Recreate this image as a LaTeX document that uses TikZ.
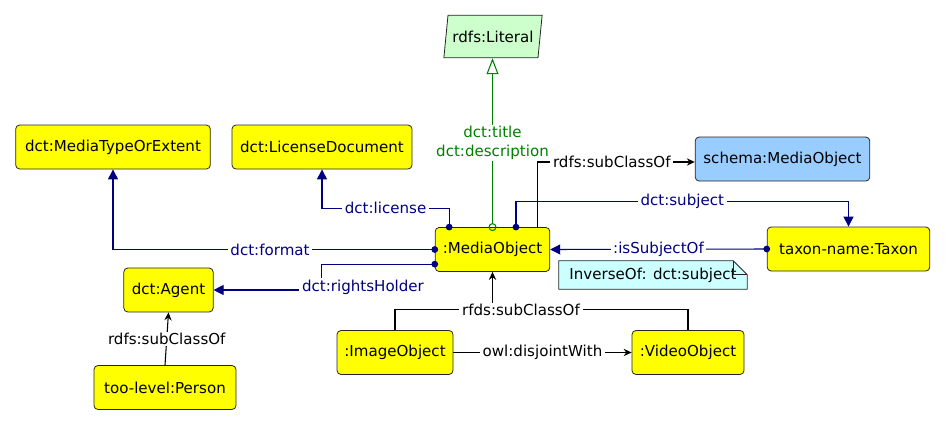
\documentclass[tikz,border=0pt]{standalone}
\usepackage{fontspec}
\setmainfont{DejaVu Sans}
\usepackage{tikz}
\usetikzlibrary{shapes.geometric, arrows.meta, positioning, calc, backgrounds}
\definecolor{clsyellow}{HTML}{FFFF00}
\definecolor{extblue}{HTML}{99CCFF}
\definecolor{litfill}{HTML}{CCFFCC}
\definecolor{notecyan}{HTML}{CCFFFF}
\definecolor{propblue}{HTML}{000080}
\definecolor{datagreen}{HTML}{008000}
\tikzset{
  % Class boxes
  cls/.style={rectangle, rounded corners=3pt, minimum height=33pt, text centered, draw=black!85, line width=0.6pt, fill=#1, font=\fontsize{11.3}{14}\selectfont},
  cls/.default={clsyellow},
  literal/.style={trapezium, trapezium left angle=78.6, trapezium right angle=101.4, trapezium stretches=true, minimum width=73.5pt, minimum height=32pt, draw=black!85, line width=0.6pt, fill=litfill, font=\fontsize{11.3}{14}\selectfont},
  notebox/.style={rectangle, minimum width=141pt, minimum height=21pt, text centered, font=\fontsize{11.3}{14}\selectfont},
  % Edges
  objprop/.style={draw=propblue, line width=0.8pt, {Circle[length=5pt]}-{Triangle[length=7.5pt, width=7.5pt]}, shorten <=-2.5pt},
  dataprop/.style={draw=datagreen, line width=0.8pt, {Circle[open, length=6pt]}-{Triangle[open, length=12pt, width=9pt]}, shorten <=-3pt},
  subcls/.style={draw=black, line width=0.8pt, -{Stealth[length=6pt, width=5.5pt, inset=2pt]}},
  plainline/.style={draw=black, line width=0.8pt},
}

\begin{document}
\begin{tikzpicture}[x=0.75pt, y=-0.75pt,
    lbl/.style={fill=white, inner xsep=2pt, inner ysep=1pt, text=#1, font=\fontsize{11.3}{14}\selectfont},
    lbl/.default={black}
  ]
    \useasboundingbox (0,0) rectangle (946,425);

    % Classes
    \node[literal] (lit) at (493,36.5) {rdfs:Literal};
    \node[cls, minimum width=146pt] (mte) at (113,147) {dct:MediaTypeOrExtent};
    \node[cls, minimum width=135pt] (lic) at (322,147) {dct:LicenseDocument};
    \node[cls=extblue, minimum width=131pt] (sch) at (782.5,159) {schema:MediaObject};
    \node[cls, minimum width=86pt] (mo) at (492.5,249.5) {:MediaObject};
    \node[cls, minimum width=122pt] (tax) at (848.5,249) {taxon-name:Taxon};
    \node[cls, minimum width=67pt] (agent) at (168.5,290) {dct:Agent};
    \node[cls, minimum width=106.5pt] (per) at (165,387.5) {too-level:Person};
    \node[cls, minimum width=87pt] (img) at (395,352.5) {:ImageObject};
    \node[cls, minimum width=84pt] (vid) at (688,352.5) {:VideoObject};

    % Note
    \node[notebox] (inv) at (653,275) {InverseOf: dct:subject};
    \begin{scope}[on background layer]
      \draw[fill=notecyan, draw=black!85, line width=0.6pt] (inv.south west) -- (inv.north west) -- ([xshift=-10.5pt]inv.north east) -- ([yshift=-10.5pt]inv.north east) -- (inv.south east) -- cycle;
    \end{scope}
    \draw[draw=black!85, line width=0.6pt] ([xshift=-10.5pt]inv.north east) |- ([yshift=-10.5pt]inv.north east);

    % Datatype properties
    \draw[dataprop] (mo.north) -- node[lbl=datagreen, align=center, pos=0.5] (dlbl) {dct:title\\dct:description} (mo.north |- lit.south);

    % Object properties
    \draw[objprop] (mo.west) -| node[lbl=propblue, pos=0.256] (flbl) {dct:format} (mte.south);
    \draw[objprop] ([xshift=-32.5pt]mo.north) -- ++(0,-19) -| node[lbl=propblue, pos=0.25] (llbl) {dct:license} (lic.south);
    \draw[objprop] ([yshift=-11pt]mo.west) -- ++(-113,0) |- (agent.east);
    \node[lbl=propblue] (rlbl) at (363,287) {dct:rightsHolder};
    \draw[objprop] ([xshift=17.6pt]mo.north) -- ++(0,-26) -| node[lbl=propblue, pos=0.25] (slbl) {dct:subject} (tax.north);
    \draw[objprop] (tax.west) -- node[lbl=propblue, pos=0.5] (ilbl) {:isSubjectOf} (mo.east);

    % Subclass links
    \draw[subcls] ([xshift=33.4pt]mo.north) |- node[lbl, pos=0.737] (sclbl) {rdfs:subClassOf} ([yshift=-2.25pt]sch.west);
    \draw[plainline] (img.north) -- ++(0,-21) coordinate (jn) -| (vid.north);
    \draw[subcls] (mo.south |- jn) -- (mo.south);
    \node[lbl] (rflbl) at (521,310) {rfds:subClassOf};
    \draw[subcls] (per.north) -- node[lbl, pos=0.5] (plbl) {rdfs:subClassOf} (agent.south);

    % Disjointness
    \draw[subcls] (img.east) -- node[lbl, pos=0.5] (dislbl) {owl:disjointWith} (vid.west);
\end{tikzpicture}
\end{document}
